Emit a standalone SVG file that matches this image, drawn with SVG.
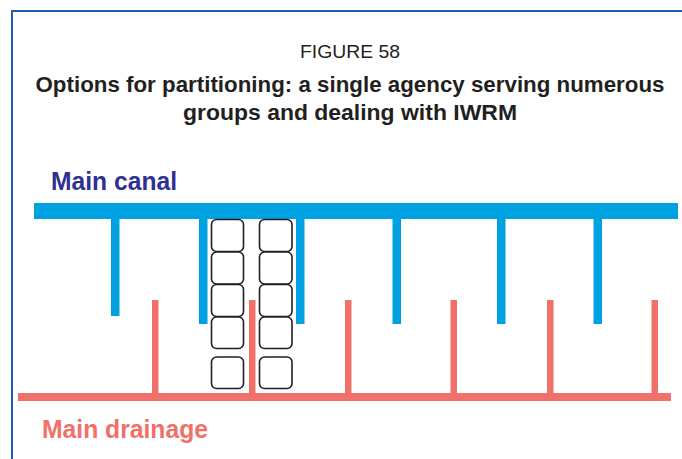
<svg xmlns="http://www.w3.org/2000/svg" width="682" height="459" viewBox="0 0 682 459">
  <style>
    .frame { fill: none; stroke: #1b5fa8; stroke-width: 2; }
    .canal { fill: #00a1e0; }
    .drain { fill: #ef716a; }
    .plot { fill: #ffffff; stroke: #231f20; stroke-width: 1.6; }
    .caption { font-family: "Liberation Sans", Arial, sans-serif; fill: #231f20; text-anchor: middle; }
    .label { font-family: "Liberation Sans", Arial, sans-serif; font-weight: bold; font-size: 25px; }
  </style>

  <rect width="682" height="459" fill="#ffffff"/>

  <!-- figure frame: top and left rule only -->
  <g id="frame">
    <path class="frame" d="M12 459 V11 H682"/>
  </g>

  <!-- caption -->
  <g id="title">
    <text class="caption" x="350" y="57.5" font-size="19" textLength="100" lengthAdjust="spacingAndGlyphs">FIGURE 58</text>
    <text class="caption" x="350" y="92" font-size="22" font-weight="bold" textLength="629" lengthAdjust="spacingAndGlyphs">Options for partitioning: a single agency serving numerous</text>
    <text class="caption" x="350" y="120" font-size="22" font-weight="bold" textLength="334" lengthAdjust="spacingAndGlyphs">groups and dealing with IWRM</text>
  </g>

  <!-- main canal with its distributaries -->
  <g id="main-canal">
    <rect class="canal" x="34" y="203" width="644" height="16"/>
    <rect class="canal" x="111" y="218" width="8.5" height="98"/>
    <rect class="canal" x="199" y="218" width="8.5" height="106"/>
    <rect class="canal" x="296" y="218" width="8.5" height="106"/>
    <rect class="canal" x="392.5" y="218" width="8.5" height="106"/>
    <rect class="canal" x="497" y="218" width="8.5" height="106"/>
    <rect class="canal" x="593.5" y="218" width="8.5" height="106"/>
  </g>

  <!-- main drainage with its collector drains -->
  <g id="main-drainage">
    <rect class="drain" x="18" y="393" width="653" height="8"/>
    <rect class="drain" x="152" y="300" width="6.5" height="94"/>
    <rect class="drain" x="249" y="300" width="6.5" height="94"/>
    <rect class="drain" x="345" y="300" width="6.5" height="94"/>
    <rect class="drain" x="450.5" y="300" width="6.5" height="94"/>
    <rect class="drain" x="547" y="300" width="6.5" height="94"/>
    <rect class="drain" x="651.5" y="300" width="6.5" height="94"/>
  </g>

  <!-- farm plots served along one distributary -->
  <g id="plots">
    <rect class="plot" x="211.5" y="219.5" width="32" height="32" rx="5"/>
    <rect class="plot" x="211.5" y="252" width="32" height="32" rx="5"/>
    <rect class="plot" x="211.5" y="284.5" width="32" height="32" rx="5"/>
    <rect class="plot" x="211.5" y="317" width="32" height="31.5" rx="5"/>
    <rect class="plot" x="211.5" y="357" width="32" height="31.5" rx="5"/>
    <rect class="plot" x="259.5" y="219.5" width="32.5" height="32" rx="5"/>
    <rect class="plot" x="259.5" y="252" width="32.5" height="32" rx="5"/>
    <rect class="plot" x="259.5" y="284.5" width="32.5" height="32" rx="5"/>
    <rect class="plot" x="259.5" y="317" width="32.5" height="31.5" rx="5"/>
    <rect class="plot" x="259.5" y="357" width="32.5" height="31.5" rx="5"/>
  </g>

  <g id="labels">
    <text class="label" x="51" y="190" fill="#2e3192" textLength="126" lengthAdjust="spacingAndGlyphs">Main canal</text>
    <text class="label" x="42" y="437.5" fill="#ef716a" textLength="166" lengthAdjust="spacingAndGlyphs">Main drainage</text>
  </g>
</svg>
